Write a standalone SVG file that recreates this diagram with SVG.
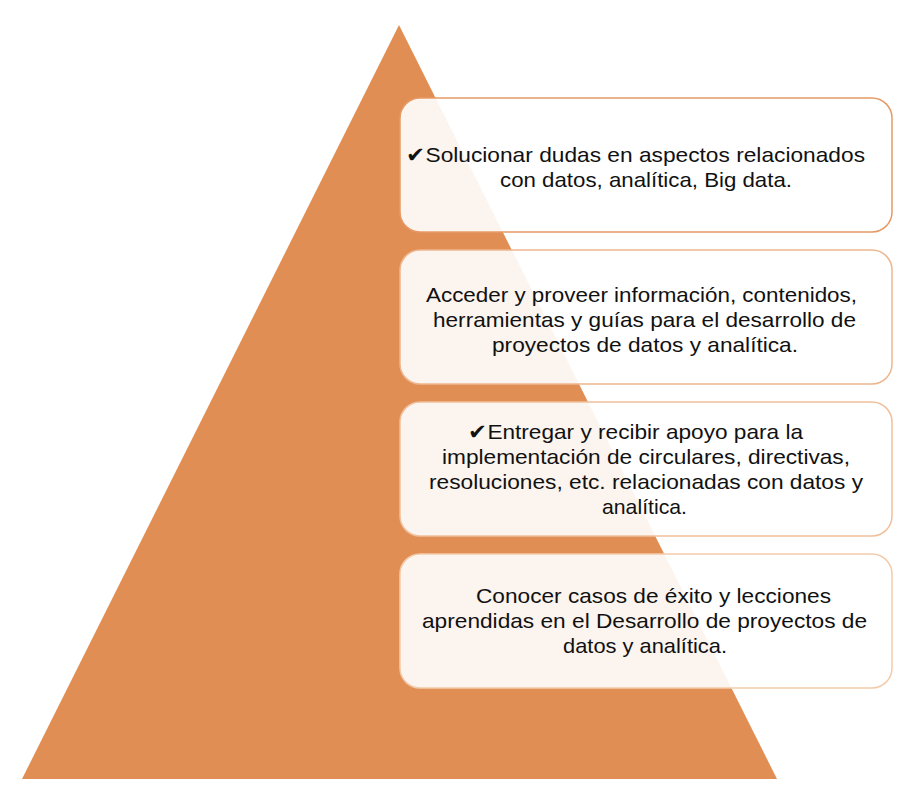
<svg xmlns="http://www.w3.org/2000/svg" width="924" height="792" viewBox="0 0 924 792">
<style>
.box{fill:#ffffff;fill-opacity:0.9;stroke-width:1.5}
.t{font-family:"Liberation Sans",Arial,sans-serif;font-size:21px;fill:#111111}
</style>
<rect width="924" height="792" fill="#ffffff"/>
<g id="pyramid"><polygon points="399,25 777,779 22,779" fill="#E08E54"/></g>
<g id="box1"><rect class="box" x="400" y="98" width="492" height="134" rx="20" stroke="#E59A66"/>
<text class="t" x="406" y="162" textLength="459" lengthAdjust="spacingAndGlyphs">✔Solucionar dudas en aspectos relacionados</text>
<text class="t" x="500" y="187" textLength="292" lengthAdjust="spacingAndGlyphs">con datos, analítica, Big data.</text></g>
<g id="box2"><rect class="box" x="400" y="250" width="492" height="134" rx="20" stroke="#EDB68E"/>
<text class="t" x="426" y="302" textLength="431" lengthAdjust="spacingAndGlyphs">Acceder y proveer información, contenidos,</text>
<text class="t" x="433" y="327" textLength="423" lengthAdjust="spacingAndGlyphs">herramientas y guías para el desarrollo de</text>
<text class="t" x="492" y="352" textLength="306" lengthAdjust="spacingAndGlyphs">proyectos de datos y analítica.</text></g>
<g id="box3"><rect class="box" x="400" y="402" width="492" height="134" rx="20" stroke="#F0C09C"/>
<text class="t" x="468" y="439" textLength="335" lengthAdjust="spacingAndGlyphs">✔Entregar y recibir apoyo para la</text>
<text class="t" x="442" y="464" textLength="408" lengthAdjust="spacingAndGlyphs">implementación de circulares, directivas,</text>
<text class="t" x="429" y="489" textLength="434" lengthAdjust="spacingAndGlyphs">resoluciones, etc. relacionadas con datos y</text>
<text class="t" x="602" y="514" textLength="85" lengthAdjust="spacingAndGlyphs">analítica.</text></g>
<g id="box4"><rect class="box" x="400" y="554" width="492" height="134" rx="20" stroke="#F3CBAA"/>
<text class="t" x="476" y="603" textLength="355" lengthAdjust="spacingAndGlyphs">Conocer casos de éxito y lecciones</text>
<text class="t" x="422" y="628" textLength="445" lengthAdjust="spacingAndGlyphs">aprendidas en el Desarrollo de proyectos de</text>
<text class="t" x="563" y="653" textLength="164" lengthAdjust="spacingAndGlyphs">datos y analítica.</text></g>
<g id="connectors"></g>
</svg>
